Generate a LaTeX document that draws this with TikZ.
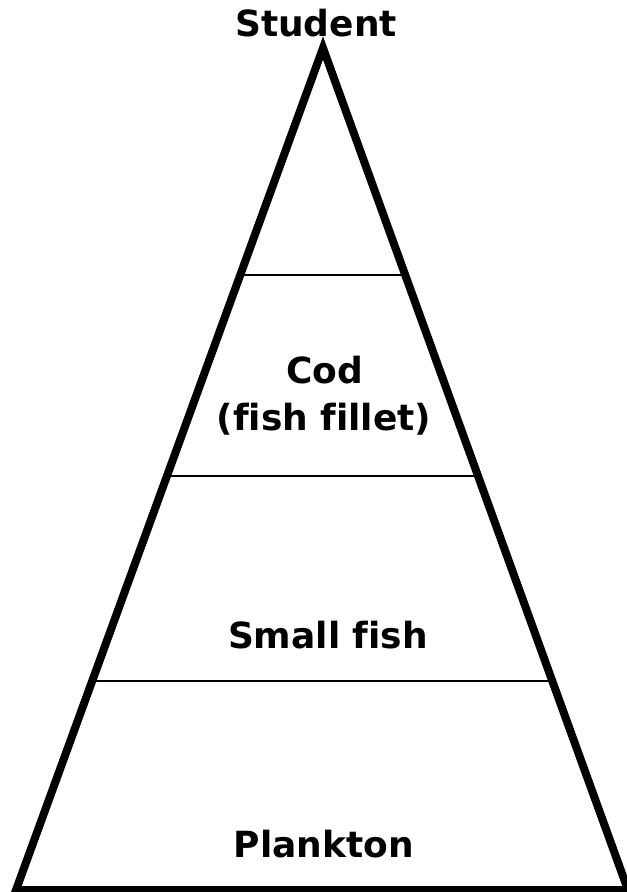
\documentclass[tikz,border=0pt]{standalone}
\usepackage{fontspec}
\setmainfont[Ligatures=NoCommon]{DejaVu Sans}
\usetikzlibrary{calc}
\usetikzlibrary{positioning}

\tikzset{
  level/.style={font=\bfseries\fontsize{27}{32}\selectfont, anchor=base},
  divider/.style={line width=1.5pt},
}

\begin{document}
\begin{tikzpicture}[x=0.75pt, y=-0.75pt]
        \useasboundingbox (0,0) rectangle (627,892);

        \coordinate (top) at (323,48);
        \coordinate (bl) at (16,890);
        \coordinate (br) at (628,890);

        \draw[line width=6pt, line join=miter] (top) -- (bl) -- (br) -- cycle;

        \draw[divider] ($(top)!0.2696!(bl)$) coordinate (l1) -- ($(top)!0.2696!(br)$) coordinate (r1);
        \draw[divider] ($(top)!0.5083!(bl)$) coordinate (l2) -- ($(top)!0.5083!(br)$) coordinate (r2);
        \draw[divider] ($(top)!0.7518!(bl)$) coordinate (l3) -- ($(top)!0.7518!(br)$) coordinate (r3);

        \node[level] (student) at (316,37) {Student};
        \node[level] (cod) at (325,383) {Cod};
        \node[level] (fillet) at (324,430) {(fish fillet)};
        \node[level] (small) at (328,648) {Small fish};
        \node[level] (plankton) at (324,857) {Plankton};
      \end{tikzpicture}
\end{document}
